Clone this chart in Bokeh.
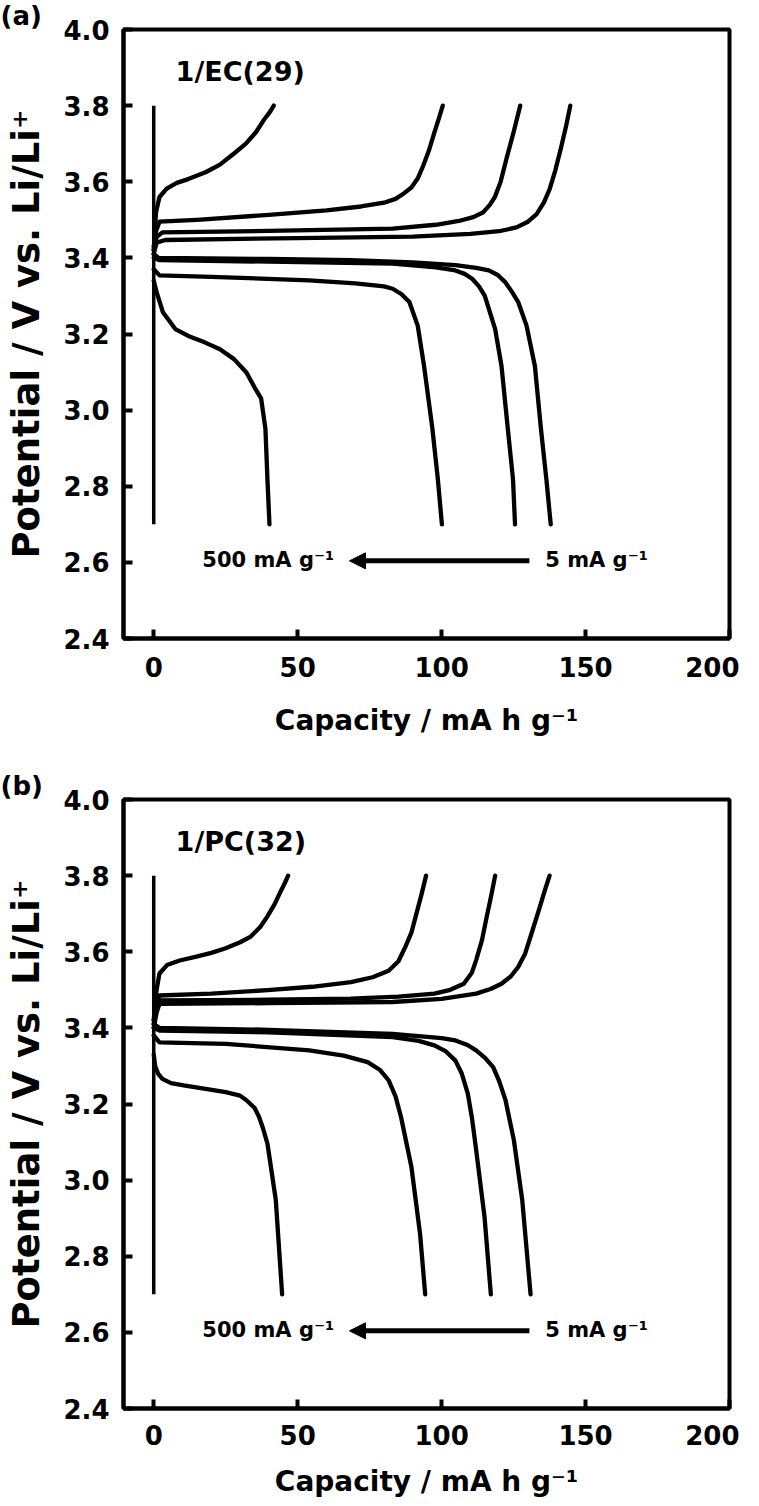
import numpy as np
from bokeh.plotting import figure
from bokeh.models import Range1d, FixedTicker, Label, Arrow, NormalHead
from bokeh.layouts import column
from bokeh.embed import file_html
from bokeh.resources import INLINE

FONT = "DejaVu Sans"

# ---------------- tick / text data ----------------
x_ticks = [0, 50, 100, 150, 200]
y_ticks = [2.4, 2.6, 2.8, 3.0, 3.2, 3.4, 3.6, 3.8, 4.0]
y_tick_labels = ["2.4", "2.6", "2.8", "3.0", "3.2", "3.4", "3.6", "3.8", "4.0"]
panel_letters = ["(a)", "(b)"]
panel_names = ["1/EC(29)", "1/PC(32)"]
rate_low = "500 mA g\u207b\u00b9"
rate_high = "5 mA g\u207b\u00b9"
x_title = "Capacity / mA h g\u207b\u00b9"
y_title = "Potential / V vs. Li/Li\u207a"

# ---------------- panel (a): 1/EC(29) ----------------
a_start_x = [0, 0]
a_start_v = [2.70, 3.80]

a_ch1_x = [0, 0.8, 2, 4.5, 8, 12, 18, 23, 28, 32, 35.5, 38.5, 40.5, 41.7]
a_ch1_v = [3.42, 3.52, 3.56, 3.582, 3.597, 3.607, 3.625, 3.645, 3.675, 3.70, 3.73, 3.765, 3.785, 3.80]
a_ch2_x = [0, 0.8, 2, 15, 40, 60, 72, 80, 84, 87, 89.5, 91.8, 93.5, 95.5, 97.5, 99, 100.4]
a_ch2_v = [3.43, 3.47, 3.495, 3.50, 3.513, 3.525, 3.535, 3.545, 3.555, 3.57, 3.585, 3.61, 3.64, 3.68, 3.73, 3.765, 3.80]
a_ch3_x = [0, 1, 3, 40, 83, 98, 106, 111, 114.5, 116.8, 118.5, 120.5, 122.5, 125, 127.3]
a_ch3_v = [3.42, 3.455, 3.467, 3.471, 3.477, 3.487, 3.497, 3.507, 3.52, 3.54, 3.56, 3.60, 3.66, 3.73, 3.80]
a_ch4_x = [0, 1, 4, 50, 90, 110, 120, 126, 130, 133, 135.5, 137.5, 139.5, 141.5, 143.2, 144.7]
a_ch4_v = [3.41, 3.44, 3.447, 3.452, 3.456, 3.463, 3.47, 3.48, 3.495, 3.515, 3.545, 3.58, 3.63, 3.69, 3.745, 3.80]

a_dis1_x = [0, 1, 3.2, 7.5, 12, 17.7, 23, 27.9, 32.2, 35, 37.3, 38.8, 39.5, 40.2]
a_dis1_v = [3.34, 3.31, 3.257, 3.213, 3.195, 3.178, 3.16, 3.134, 3.099, 3.06, 3.031, 2.951, 2.818, 2.70]
a_dis2_x = [0, 2, 20, 54, 70, 80, 83, 86, 88.8, 91.7, 93.9, 96.8, 98.7, 100.1]
a_dis2_v = [3.37, 3.354, 3.35, 3.341, 3.333, 3.325, 3.319, 3.305, 3.284, 3.222, 3.116, 2.951, 2.818, 2.70]
a_dis3_x = [0, 2, 40, 83, 98, 104.8, 108, 110.6, 113, 115, 118.6, 120.8, 123, 124.8, 125.5]
a_dis3_v = [3.40, 3.394, 3.39, 3.385, 3.375, 3.367, 3.358, 3.345, 3.325, 3.30, 3.213, 3.116, 2.951, 2.818, 2.70]
a_dis4_x = [0, 1.7, 40, 68.5, 90, 104.8, 112, 116.4, 119.5, 122, 124.5, 126.6, 129.5, 132.4, 134.5, 136.4, 137.9]
a_dis4_v = [3.41, 3.40, 3.397, 3.394, 3.388, 3.381, 3.374, 3.367, 3.355, 3.337, 3.31, 3.284, 3.222, 3.116, 2.951, 2.818, 2.70]

# ---------------- panel (b): 1/PC(32) ----------------
b_start_x = [0, 0]
b_start_v = [2.70, 3.80]

b_ch1_x = [0, 1, 2, 4.6, 9, 14.8, 20, 25, 30, 33.7, 37, 39.5, 42, 43.8, 45.5, 46.7]
b_ch1_v = [3.42, 3.50, 3.543, 3.565, 3.577, 3.587, 3.597, 3.609, 3.625, 3.64, 3.665, 3.693, 3.725, 3.754, 3.78, 3.80]
b_ch2_x = [0, 1, 2, 20, 39.5, 55, 68.5, 76, 81.6, 85, 87.4, 89.5, 91, 93, 94.6]
b_ch2_v = [3.42, 3.46, 3.485, 3.49, 3.499, 3.508, 3.52, 3.533, 3.55, 3.575, 3.613, 3.65, 3.693, 3.75, 3.80]
b_ch3_x = [0, 1, 2, 40, 68.5, 85, 97.5, 103, 107.7, 110.5, 112, 114, 115.7, 117.3, 118.6]
b_ch3_v = [3.41, 3.45, 3.472, 3.474, 3.477, 3.482, 3.49, 3.50, 3.516, 3.545, 3.578, 3.63, 3.693, 3.75, 3.80]
b_ch4_x = [0, 1, 2, 40, 83, 100, 112, 117, 120.8, 124, 126.6, 129, 130.9, 133.8, 135.8, 137.5]
b_ch4_v = [3.40, 3.44, 3.463, 3.465, 3.468, 3.476, 3.49, 3.502, 3.516, 3.535, 3.56, 3.595, 3.64, 3.71, 3.76, 3.80]

b_dis1_x = [0, 0.5, 1.5, 3, 6, 10.4, 18, 25, 30, 32.2, 35, 36.6, 38, 39.5, 42.4, 44.6]
b_dis1_v = [3.33, 3.30, 3.28, 3.266, 3.255, 3.249, 3.24, 3.231, 3.222, 3.21, 3.19, 3.166, 3.135, 3.096, 2.948, 2.70]
b_dis2_x = [0, 2, 25, 54, 66, 74.3, 78.5, 81.6, 84, 85.9, 89.5, 92.5, 94.3]
b_dis2_v = [3.38, 3.362, 3.358, 3.341, 3.327, 3.31, 3.29, 3.262, 3.22, 3.166, 3.035, 2.86, 2.70]
b_dis3_x = [0, 2, 40, 83, 92, 97.5, 101.5, 104.8, 107, 109.1, 110.6, 112, 114.9, 117.1]
b_dis3_v = [3.40, 3.393, 3.388, 3.376, 3.366, 3.354, 3.338, 3.314, 3.28, 3.227, 3.16, 3.079, 2.904, 2.70]
b_dis4_x = [0, 2, 40, 83, 100, 104.8, 109, 112, 115, 117.9, 120, 122.2, 125.1, 128, 130.9]
b_dis4_v = [3.41, 3.40, 3.395, 3.384, 3.373, 3.367, 3.355, 3.341, 3.322, 3.297, 3.26, 3.21, 3.105, 2.948, 2.70]

panel_a_curves = [(a_ch1_x, a_ch1_v), (a_ch2_x, a_ch2_v), (a_ch3_x, a_ch3_v), (a_ch4_x, a_ch4_v),
                  (a_dis1_x, a_dis1_v), (a_dis2_x, a_dis2_v), (a_dis3_x, a_dis3_v), (a_dis4_x, a_dis4_v)]
panel_b_curves = [(b_ch1_x, b_ch1_v), (b_ch2_x, b_ch2_v), (b_ch3_x, b_ch3_v), (b_ch4_x, b_ch4_v),
                  (b_dis1_x, b_dis1_v), (b_dis2_x, b_dis2_v), (b_dis3_x, b_dis3_v), (b_dis4_x, b_dis4_v)]


def make_panel(curves, start, letter, name, border_bottom, tick_standoff, title_standoff):
    p = figure(frame_width=606, frame_height=609, title=letter,
               min_border_left=123, min_border_right=10, min_border_top=0,
               min_border_bottom=border_bottom,
               x_range=Range1d(-10.5, 200), y_range=Range1d(2.4, 4.0),
               output_backend="svg", toolbar_location=None,
               background_fill_color="white", border_fill_color="white")
    p.grid.visible = False
    p.outline_line_color = "black"
    p.outline_line_width = 4
    p.outline_line_alpha = 1.0

    p.title.align = "left"
    p.title.offset = -123
    p.title.standoff = -3
    p.title.text_font = FONT
    p.title.text_font_style = "bold"
    p.title.text_font_size = "26px"
    p.title.text_color = "black"

    for ax in (p.xaxis[0], p.yaxis[0]):
        ax.axis_line_width = 4
        ax.axis_line_color = "black"
        ax.major_tick_in = 9
        ax.major_tick_out = 0
        ax.minor_tick_in = 0
        ax.minor_tick_out = 0
        ax.major_tick_line_width = 4
        ax.major_tick_line_color = "black"
        ax.major_label_text_font = FONT
        ax.major_label_text_font_style = "bold"
        ax.major_label_text_font_size = "26px"
        ax.major_label_text_color = "black"
        ax.axis_label_text_font = FONT
        ax.axis_label_text_font_style = "bold"
        ax.axis_label_text_color = "black"

    p.xaxis.ticker = FixedTicker(ticks=x_ticks)
    p.yaxis.ticker = FixedTicker(ticks=y_ticks)
    p.yaxis.major_label_overrides = {t: l for t, l in zip(y_ticks, y_tick_labels)}
    p.xaxis.major_label_standoff = tick_standoff
    p.yaxis.major_label_standoff = 14

    p.xaxis.axis_label = x_title
    p.xaxis.axis_label_text_font_size = "28px"
    p.xaxis.axis_label_standoff = title_standoff
    p.yaxis.axis_label = y_title
    p.yaxis.axis_label_text_font_size = "37px"
    p.yaxis.axis_label_standoff = 12

    p.line(start[0], start[1], line_color="black", line_width=3.5)
    for xs, vs in curves:
        p.line(xs, vs, line_color="black", line_width=4.3, line_join="round", line_cap="round")

    p.add_layout(Arrow(end=NormalHead(size=16, fill_color="black", line_color="black"),
                       x_start=130.5, y_start=2.604, x_end=68, y_end=2.604,
                       line_width=5, line_color="black"))
    p.add_layout(Label(x=62.7, y=2.606, text=rate_low, text_align="right", text_baseline="middle",
                       text_font=FONT, text_font_style="bold", text_font_size="21px", text_color="black"))
    p.add_layout(Label(x=136, y=2.606, text=rate_high, text_align="left", text_baseline="middle",
                       text_font=FONT, text_font_style="bold", text_font_size="21px", text_color="black"))
    p.add_layout(Label(x=7.6, y=3.889, text=name, text_align="left", text_baseline="middle",
                       text_font=FONT, text_font_style="bold", text_font_size="27px", text_color="black"))
    return p


pa = make_panel(panel_a_curves, (a_start_x, a_start_v), panel_letters[0], panel_names[0], 132, 18, 24)
pb = make_panel(panel_b_curves, (b_start_x, b_start_v), panel_letters[1], panel_names[1], 80, 16, 17)

layout = column(pa, pb, spacing=0)
open("out.html", "w").write(file_html(layout, INLINE))
